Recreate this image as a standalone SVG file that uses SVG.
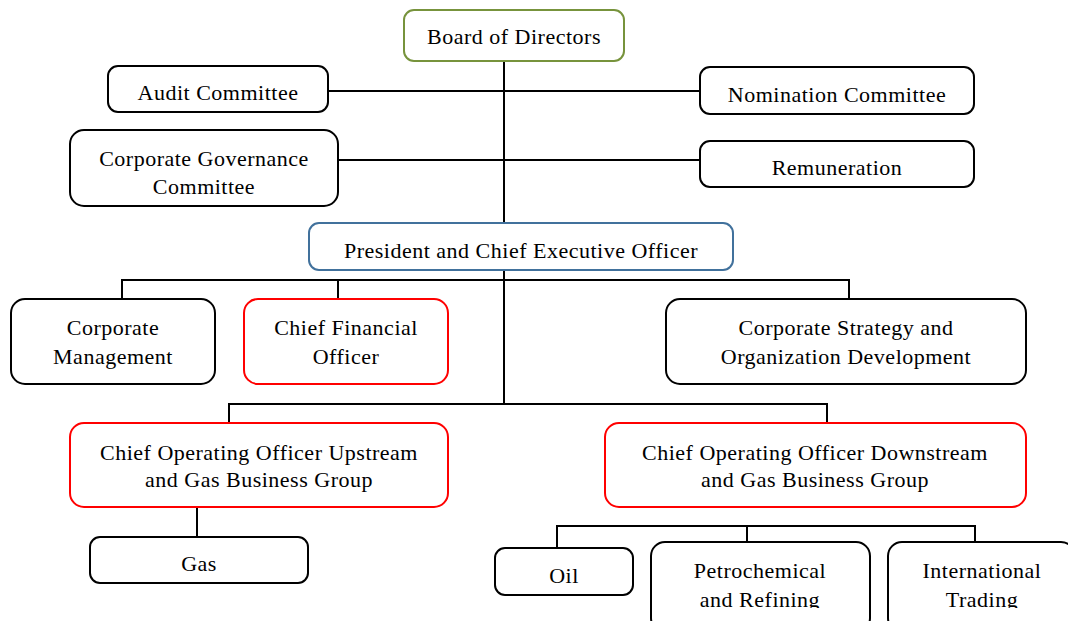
<svg xmlns="http://www.w3.org/2000/svg" width="1068" height="621" viewBox="0 0 1068 621">
<style>
.box{fill:#fff;stroke:#000;stroke-width:2}
.g{stroke:#77933C}
.b{stroke:#41719C}
.r{stroke:#FF0000}
.t{font-family:"Liberation Serif","Times New Roman",serif;font-size:22px;letter-spacing:0.5px;fill:#000;text-anchor:middle}
.c{fill:none;stroke:#000;stroke-width:2}
</style>
<defs>
<clipPath id="cut"><rect x="0" y="0" width="1068" height="608"/></clipPath>
</defs>
<rect width="1068" height="621" fill="#fff"/>
<g id="connectors">
<path class="c" d="M504 61V223M328 91H700M338 160H700"/>
<path class="c" d="M504 270V404M122 299V280H849V299M338 280V299"/>
<path class="c" d="M229 423V404H827V423"/>
<path class="c" d="M197 507V537"/>
<path class="c" d="M557 548V526H975V542M747 526V542"/>
</g>
<g id="board"><rect class="box g" x="404" y="10" width="220" height="51" rx="10"/><text class="t" x="514" y="44">Board of Directors</text></g>
<g id="audit"><rect class="box" x="108" y="66" width="220" height="46" rx="10"/><text class="t" x="218" y="100">Audit Committee</text></g>
<g id="nomination"><rect class="box" x="700" y="67" width="274" height="47" rx="10"/><text class="t" x="837" y="102">Nomination Committee</text></g>
<g id="governance"><rect class="box" x="70" y="130" width="268" height="76" rx="14"/><text class="t" x="204" y="166">Corporate Governance</text><text class="t" x="204" y="194">Committee</text></g>
<g id="remuneration"><rect class="box" x="700" y="141" width="274" height="46" rx="10"/><text class="t" x="837" y="175">Remuneration</text></g>
<g id="ceo"><rect class="box b" x="309" y="223" width="424" height="47" rx="10"/><text class="t" x="521" y="258">President and Chief Executive Officer</text></g>
<g id="corpmgmt"><rect class="box" x="11" y="299" width="204" height="85" rx="14"/><text class="t" x="113" y="335">Corporate</text><text class="t" x="113" y="364">Management</text></g>
<g id="cfo"><rect class="box r" x="244" y="299" width="204" height="85" rx="14"/><text class="t" x="346" y="335">Chief Financial</text><text class="t" x="346" y="364">Officer</text></g>
<g id="strategy"><rect class="box" x="666" y="299" width="360" height="85" rx="14"/><text class="t" x="846" y="335">Corporate Strategy and</text><text class="t" x="846" y="364">Organization Development</text></g>
<g id="coo-up"><rect class="box r" x="70" y="423" width="378" height="84" rx="14"/><text class="t" x="259" y="460">Chief Operating Officer Upstream</text><text class="t" x="259" y="487">and Gas Business Group</text></g>
<g id="coo-down"><rect class="box r" x="605" y="423" width="421" height="84" rx="14"/><text class="t" x="815" y="460">Chief Operating Officer Downstream</text><text class="t" x="815" y="487">and Gas Business Group</text></g>
<g id="gas"><rect class="box" x="90" y="537" width="218" height="46" rx="10"/><text class="t" x="199" y="571">Gas</text></g>
<g id="oil"><rect class="box" x="495" y="548" width="138" height="47" rx="10"/><text class="t" x="564" y="583">Oil</text></g>
<g id="petro"><rect class="box" x="651" y="542" width="219" height="90" rx="14"/><g clip-path="url(#cut)"><text class="t" x="760" y="578">Petrochemical</text><text class="t" x="760" y="607">and Refining</text></g></g>
<g id="intl"><rect class="box" x="888" y="542" width="187" height="90" rx="14"/><g clip-path="url(#cut)"><text class="t" x="982" y="578">International</text><text class="t" x="982" y="607">Trading</text></g></g>
</svg>
